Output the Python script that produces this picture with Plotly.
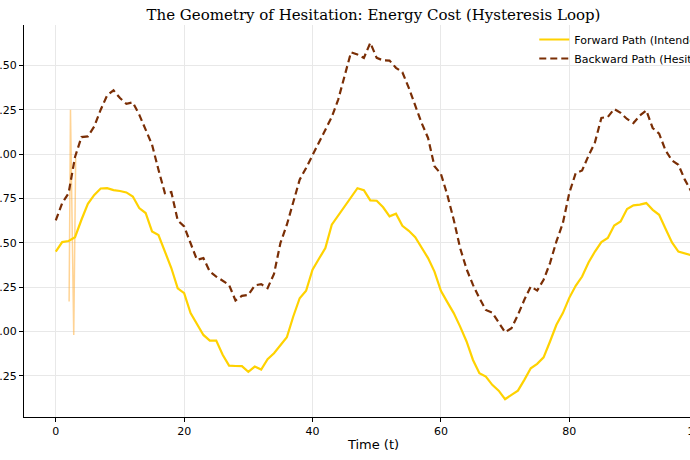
import plotly.graph_objects as go

t = list(range(100))

forward = [0.451, 0.504, 0.510, 0.532, 0.630, 0.720, 0.770, 0.806, 0.808, 0.797,
           0.792, 0.784, 0.761, 0.696, 0.668, 0.564, 0.544, 0.451, 0.358, 0.243,
           0.216, 0.104, 0.042, -0.019, -0.051, -0.051, -0.131, -0.192, -0.194, -0.195,
           -0.227, -0.197, -0.214, -0.156, -0.122, -0.079, -0.032, 0.085, 0.188, 0.230,
           0.348, 0.410, 0.470, 0.602, 0.652, 0.705, 0.752, 0.808, 0.797, 0.739,
           0.737, 0.700, 0.649, 0.664, 0.596, 0.568, 0.532, 0.476, 0.414, 0.338,
           0.230, 0.166, 0.104, 0.028, -0.056, -0.160, -0.235, -0.254, -0.300, -0.333,
           -0.381, -0.357, -0.333, -0.272, -0.207, -0.182, -0.145, -0.056, 0.038, 0.104,
           0.190, 0.258, 0.310, 0.389, 0.451, 0.504, 0.527, 0.598, 0.620, 0.690,
           0.711, 0.715, 0.724, 0.686, 0.658, 0.579, 0.502, 0.451, 0.442, 0.430]

backward = [0.626, 0.724, 0.780, 0.984, 1.096, 1.100, 1.156, 1.250, 1.331, 1.359,
            1.316, 1.283, 1.292, 1.222, 1.138, 1.053, 0.912, 0.780, 0.786, 0.626,
            0.592, 0.499, 0.404, 0.414, 0.338, 0.310, 0.286, 0.263, 0.175, 0.201,
            0.207, 0.260, 0.267, 0.245, 0.325, 0.499, 0.602, 0.724, 0.856, 0.922,
            0.995, 1.070, 1.141, 1.209, 1.307, 1.448, 1.574, 1.561, 1.542, 1.627,
            1.542, 1.528, 1.527, 1.486, 1.461, 1.373, 1.273, 1.175, 1.091, 0.931,
            0.889, 0.770, 0.630, 0.470, 0.352, 0.263, 0.188, 0.122, 0.107, 0.051,
            -0.004, 0.019, 0.094, 0.179, 0.254, 0.231, 0.292, 0.386, 0.508, 0.611,
            0.780, 0.893, 0.908, 0.991, 1.066, 1.204, 1.209, 1.254, 1.232, 1.198,
            1.175, 1.217, 1.246, 1.147, 1.115, 1.021, 0.964, 0.940, 0.856, 0.790]

# thin light-orange artefact near the start
spike_x = [2.08, 2.29, 2.80, 3.10]
spike_y = [0.17, 1.25, -0.02, 0.98]

x_ticks = [0, 20, 40, 60, 80, 100]
y_ticks = [-0.25, 0.0, 0.25, 0.5, 0.75, 1.0, 1.25, 1.5]

fig = go.Figure()
fig.add_trace(go.Scatter(x=spike_x, y=spike_y, mode="lines",
                         line=dict(color="rgba(255,175,60,0.55)", width=1.5),
                         showlegend=False, hoverinfo="skip"))
fig.add_trace(go.Scatter(x=t, y=forward, mode="lines", name="Forward Path (Intended)",
                         line=dict(color="#FFD200", width=2.2)))
fig.add_trace(go.Scatter(x=t, y=backward, mode="lines", name="Backward Path (Hesitation)",
                         line=dict(color="#7a2e05", width=2.2, dash="7px,4px")))

W, H = 750, 460
fig.update_layout(
    width=W, height=H,
    margin=dict(l=24, r=27, t=25, b=43),
    paper_bgcolor="white", plot_bgcolor="white",
    font=dict(family="DejaVu Sans", size=11, color="black"),
    title=dict(text="The Geometry of Hesitation: Energy Cost (Hysteresis Loop)",
               font=dict(family="DejaVu Serif", size=15, color="black"),
               xref="paper", x=0.5, xanchor="center",
               yref="container", y=1 - 15 / H, yanchor="middle"),
    legend=dict(x=0.73, xanchor="left", y=1.0, yanchor="top",
                bgcolor="rgba(0,0,0,0)", itemwidth=30,
                font=dict(family="DejaVu Sans", size=11)),
    showlegend=True,
)
fig.update_xaxes(range=[-4.95, 103.95], tickvals=x_ticks, showline=True, linecolor="black",
                 linewidth=1, ticks="outside", ticklen=4, tickcolor="black",
                 showgrid=True, gridcolor="#e8e8e8", gridwidth=1, zeroline=False,
                 title=dict(text="Time (t)", font=dict(size=13), standoff=2),
                 automargin=False)
fig.update_yaxes(range=[-0.4814, 1.7274], tickvals=y_ticks, tickformat=".2f",
                 showline=True, linecolor="black", linewidth=1, ticks="outside",
                 ticklen=4, tickcolor="black", showgrid=True, gridcolor="#e8e8e8",
                 gridwidth=1, zeroline=False, automargin=False)

fig.write_html("out.html",
               post_script="document.documentElement.style.overflow='hidden';document.body.style.overflow='hidden';")
